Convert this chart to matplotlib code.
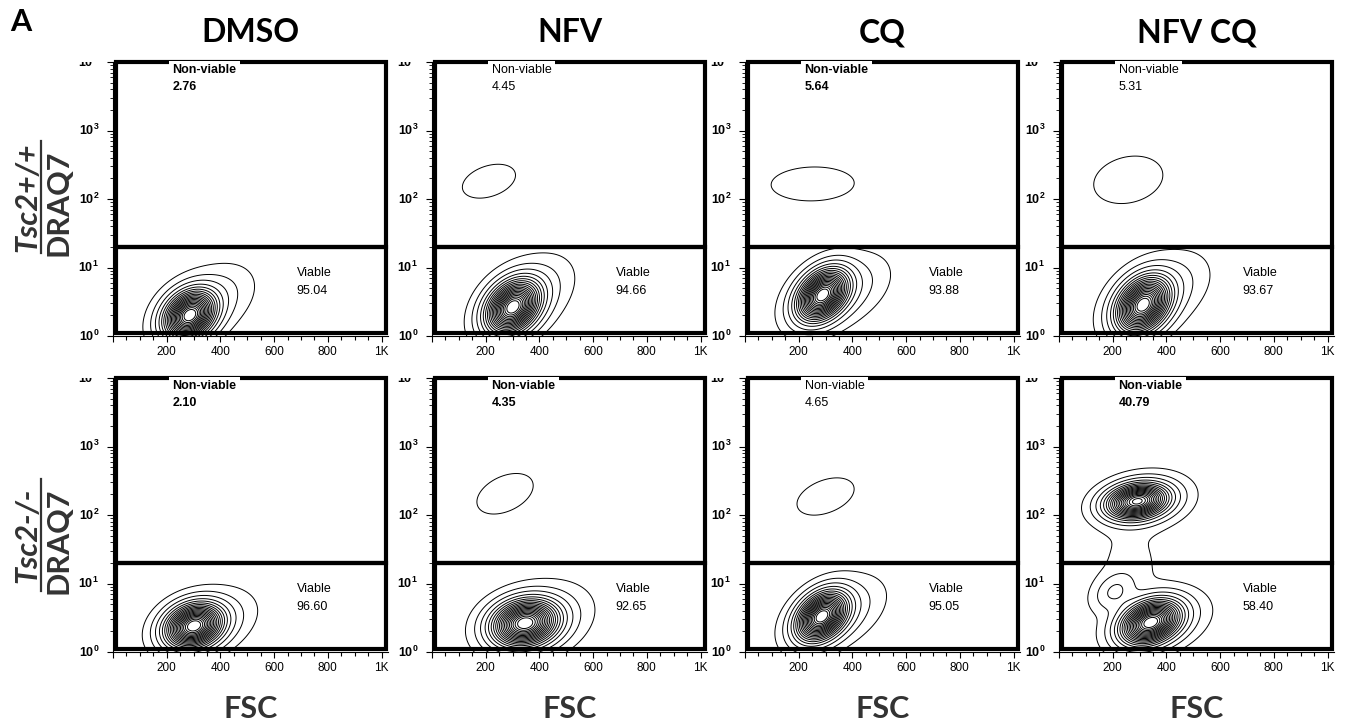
import numpy as np
import matplotlib
matplotlib.use('Agg')
import matplotlib.pyplot as plt
from matplotlib.patches import Rectangle
from matplotlib.ticker import LogLocator, MultipleLocator, NullFormatter
from matplotlib import transforms

plt.rcParams['font.family'] = ['Liberation Sans', 'DejaVu Sans']
plt.rcParams['mathtext.fontset'] = 'custom'
plt.rcParams['mathtext.rm'] = 'Liberation Sans'
plt.rcParams['mathtext.bf'] = 'Liberation Sans:bold'

# --- values ---
treatments = ['DMSO', 'NFV', 'CQ', 'NFV CQ']
genotypes = ['Tsc2+/+', 'Tsc2-/-']
nonviable_pct = [['2.76', '4.45', '5.64', '5.31'], ['2.10', '4.35', '4.65', '40.79']]
viable_pct = [['95.04', '94.66', '93.88', '93.67'], ['96.60', '92.65', '95.05', '58.40']]
nonviable_bold = [[True, False, True, False], [True, True, False, True]]
gate_split = 20          # DRAQ7 gate between viable / non-viable
fsc_ticks = [0, 200, 400, 600, 800, 1000]
fsc_ticklabels = ['', '200', '400', '600', '800', '1K']
draq7_decades = [0, 1, 2, 3, 4]

# populations: (relative peak, FSC centre, log10 DRAQ7 centre, FSC sd, log sd, corr)
pops_wt_dmso = [(1.0, 285, 0.30, 55, 0.21, 0.25), (0.10, 335, 0.45, 95, 0.30, 0.45)]
pops_wt_nfv = [(0.028, 212, 2.26, 80, 0.20, 0.35),
               (1.0, 300, 0.42, 58, 0.23, 0.3), (0.10, 345, 0.55, 92, 0.32, 0.45)]
pops_wt_cq = [(0.028, 252, 2.22, 125, 0.20, 0.05),
              (1.0, 288, 0.60, 55, 0.22, 0.35), (0.10, 340, 0.62, 100, 0.30, 0.45)]
pops_wt_nfvcq = [(0.028, 258, 2.28, 104, 0.28, 0.2),
                 (1.0, 312, 0.45, 58, 0.24, 0.3), (0.10, 360, 0.60, 100, 0.32, 0.45)]
pops_ko_dmso = [(1.0, 300, 0.38, 62, 0.19, 0.2), (0.10, 345, 0.42, 95, 0.26, 0.35)]
pops_ko_nfv = [(0.028, 272, 2.31, 85, 0.24, 0.4),
               (1.0, 345, 0.42, 72, 0.20, 0.15), (0.10, 390, 0.45, 105, 0.29, 0.3)]
pops_ko_cq = [(0.028, 300, 2.27, 86, 0.22, 0.4),
              (1.0, 285, 0.52, 55, 0.21, 0.35), (0.10, 335, 0.55, 95, 0.29, 0.45)]
pops_ko_nfvcq = [(0.9, 290, 2.20, 68, 0.15, 0.2), (0.10, 320, 2.20, 92, 0.22, 0.2),
                 (1.0, 340, 0.43, 65, 0.19, 0.3), (0.10, 375, 0.45, 95, 0.24, 0.3),
                 (0.09, 205, 0.88, 48, 0.17, 0.3), (0.02, 265, 1.30, 85, 0.42, 0.0)]
panel_pops = [[pops_wt_dmso, pops_wt_nfv, pops_wt_cq, pops_wt_nfvcq],
              [pops_ko_dmso, pops_ko_nfv, pops_ko_cq, pops_ko_nfvcq]]

contour_levels = [0.012, 0.04, 0.08, 0.13, 0.18, 0.23, 0.28, 0.33, 0.38, 0.43, 0.48,
                  0.53, 0.58, 0.63, 0.68, 0.73, 0.78, 0.83, 0.88, 0.93]


def density(pops, xx, uu):
    z = np.zeros_like(xx)
    for a, mx, mu, sx, su, rho in pops:
        dx = (xx - mx) / sx
        du = (uu - mu) / su
        q = (dx ** 2 - 2 * rho * dx * du + du ** 2) / (1 - rho ** 2)
        z += a * np.exp(-q / 2)
    return z / z.max()


W, H = 1347, 728
fig = plt.figure(figsize=(W / 100, H / 100), dpi=100)

col_left = [113, 432, 745, 1059]
row_top = [62, 378]
ax_w, ax_h = 275, 274

xg = np.linspace(0, 1024, 360)
ug = np.linspace(-0.8, 4.2, 460)
xx, uu = np.meshgrid(xg, ug)

for r in range(2):
    for c in range(4):
        ax = fig.add_axes([col_left[c] / W, 1 - (row_top[r] + ax_h) / H, ax_w / W, ax_h / H])
        ax.set_yscale('log')
        ax.set_xlim(0, 1024)
        ax.set_ylim(1, 1e4)

        z = density(panel_pops[r][c], xx, uu)
        ax.contour(xx, 10 ** uu, z, levels=contour_levels, colors='black', linewidths=0.7)

        for s in ['top', 'right']:
            ax.spines[s].set_visible(False)
        for s in ['left', 'bottom']:
            ax.spines[s].set_linewidth(0.8)

        ax.set_xticks(fsc_ticks, fsc_ticklabels)
        ax.xaxis.set_minor_locator(MultipleLocator(50))
        ax.tick_params(axis='x', which='major', length=4.5, width=0.8, pad=3, labelsize=8.5)
        ax.tick_params(axis='x', which='minor', length=3, width=0.8)
        ax.yaxis.set_major_locator(LogLocator(base=10, numticks=10))
        ax.yaxis.set_minor_locator(LogLocator(base=10, subs=np.arange(2, 10), numticks=10))
        ax.yaxis.set_minor_formatter(NullFormatter())
        ax.tick_params(axis='y', which='major', length=4, width=0.8, labelleft=False)
        ax.tick_params(axis='y', which='minor', length=2.5, width=0.6)

        lab_tr = transforms.offset_copy(ax.get_yaxis_transform(), fig=fig, x=-10, y=-3.5, units='points')
        clip = transforms.TransformedBbox(transforms.Bbox([[-0.4, -0.2], [1.0, 1.0]]), ax.transAxes)
        for k in draq7_decades:
            t = ax.text(0, 10 ** k, r'$\mathbf{10^{%d}}$' % k, transform=lab_tr,
                        ha='right', va='baseline', fontsize=9)
            t.set_clip_path(None)
            if k == 4:
                t.set_clip_box(clip)
                t.set_clip_on(True)
            else:
                t.set_clip_on(False)

        # gates
        ax.add_patch(Rectangle((13, gate_split), 1002, 1e4 - gate_split, fill=False,
                               edgecolor='black', linewidth=3, clip_on=False, zorder=3))
        ax.add_patch(Rectangle((13, 1.1), 1002, gate_split - 1.1, fill=False,
                               edgecolor='black', linewidth=3, clip_on=False, zorder=3))

        wt = 'bold' if nonviable_bold[r][c] else 'normal'
        ax.text(222, 10 ** 3.88, 'Non-viable', fontsize=9, fontweight=wt, va='center',
                zorder=5, bbox=dict(facecolor='white', edgecolor='none', pad=2.5), clip_on=False)
        ax.text(222, 10 ** 3.64, nonviable_pct[r][c], fontsize=9, fontweight=wt,
                va='center', zorder=5)
        ax.text(684, 10 ** 0.92, 'Viable', fontsize=9, va='center', zorder=5)
        ax.text(684, 10 ** 0.65, viable_pct[r][c], fontsize=9, va='center', zorder=5)

        if r == 0:
            ax.text(0.5, 1.0 + 29 / ax_h, treatments[c], transform=ax.transAxes,
                    ha='center', va='center', fontsize=23, fontweight='bold',
                    family=['Lato', 'DejaVu Sans'], color='black')
        else:
            ax.text(0.5, -57 / ax_h, 'FSC', transform=ax.transAxes,
                    ha='center', va='center', fontsize=22, fontweight='bold',
                    family=['Lato', 'DejaVu Sans'], color='#333333')

# row labels
row_centre = [197, 535]
for r in range(2):
    yc = 1 - row_centre[r] / H
    fig.text(27 / W, yc, genotypes[r], rotation=90, ha='center', va='center',
             fontsize=22, fontweight='bold', style='italic',
             family=['Lato', 'DejaVu Sans'], color='#333333')
    fig.add_artist(plt.Line2D([40.5 / W, 40.5 / W], [yc - 56 / H, yc + 56 / H],
                              color='#333333', linewidth=1.6, transform=fig.transFigure))
    fig.text(59 / W, yc - 6 / H, 'DRAQ7', rotation=90, ha='center', va='center',
             fontsize=22, fontweight='bold', family=['Lato', 'DejaVu Sans'], color='#333333')

fig.text(10 / W, 1 - 22 / H, 'A', ha='left', va='center', fontsize=22,
         fontweight='bold', family=['Lato', 'DejaVu Sans'], color='black')

fig.savefig('out.png', dpi=100, facecolor='white')
